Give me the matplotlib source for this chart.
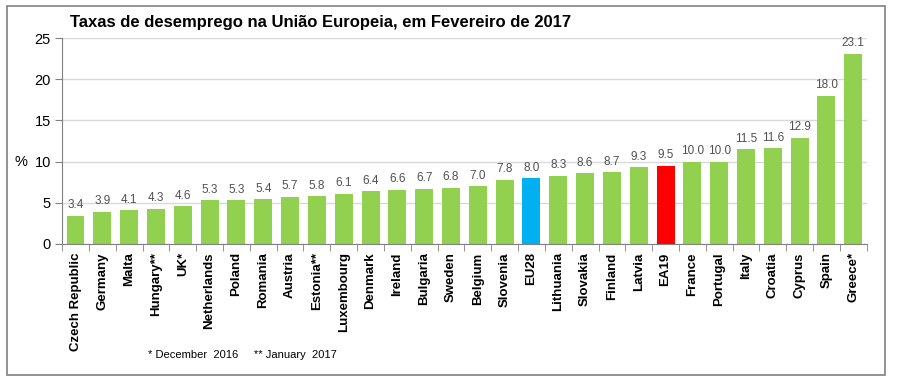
import matplotlib
matplotlib.use("Agg")
import matplotlib.pyplot as plt
from matplotlib.patches import Rectangle

countries = ["Czech Republic", "Germany", "Malta", "Hungary**", "UK*", "Netherlands",
             "Poland", "Romania", "Austria", "Estonia**", "Luxembourg", "Denmark",
             "Ireland", "Bulgaria", "Sweden", "Belgium", "Slovenia", "EU28",
             "Lithuania", "Slovakia", "Finland", "Latvia", "EA19", "France",
             "Portugal", "Italy", "Croatia", "Cyprus", "Spain", "Greece*"]
values = [3.4, 3.9, 4.1, 4.3, 4.6, 5.3, 5.3, 5.4, 5.7, 5.8, 6.1, 6.4, 6.6, 6.7,
          6.8, 7.0, 7.8, 8.0, 8.3, 8.6, 8.7, 9.3, 9.5, 10.0, 10.0, 11.5, 11.6,
          12.9, 18.0, 23.1]
yticks = [0, 5, 10, 15, 20, 25]

plt.rcParams['font.family'] = ['Liberation Sans', 'DejaVu Sans']

colors = []
for c in countries:
    if c == "EU28":
        colors.append("#00B0F0")
    elif c == "EA19":
        colors.append("#FF0000")
    else:
        colors.append("#92D050")

fig = plt.figure(figsize=(9, 3.8), dpi=100)
ax = fig.add_axes([0.069, 0.358, 0.894, 0.542])

x = list(range(len(countries)))
ax.bar(x, values, width=0.67, color=colors, zorder=2)
for xi, v in zip(x, values):
    ax.text(xi, v + 0.55, f"{v:.1f}", ha="center", va="bottom", fontsize=8.5,
            color="#505050")

ax.set_xlim(-0.5, len(countries) - 0.5)
ax.set_ylim(0, 25)
ax.set_yticks(yticks)
ax.set_yticklabels([str(t) for t in yticks], fontsize=10.5)
ax.yaxis.grid(True, color="#D9D9D9", linewidth=1, zorder=0)
ax.set_axisbelow(True)

ax.set_xticks(x)
ax.set_xticklabels(countries, rotation=90, fontsize=9.5, fontweight="bold")
ax.tick_params(axis="x", length=0, pad=6)
ax.set_xticks([i - 0.5 for i in range(len(countries) + 1)], minor=True)
ax.tick_params(axis="x", which="minor", length=5, direction="out", color="#808080")
ax.tick_params(axis="y", length=5, direction="out", color="#808080", pad=3)

for s in ["top", "right"]:
    ax.spines[s].set_visible(False)
ax.spines["left"].set_color("#808080")
ax.spines["bottom"].set_color("#808080")

fig.text(0.016, 0.573, "%", fontsize=10.5, ha="left", va="center")
fig.text(0.078, 0.942, "Taxas de desemprego na União Europeia, em Fevereiro de 2017",
         fontsize=12, fontweight="bold", ha="left", va="center")
fig.text(0.164, 0.065, "* December  2016     ** January  2017", fontsize=8,
         ha="left", va="center")

fig.patches.append(Rectangle((0.008, 0.013), 0.975, 0.97, transform=fig.transFigure,
                             fill=False, edgecolor="#808080", linewidth=1.2))

fig.savefig("out.png", dpi=100)
